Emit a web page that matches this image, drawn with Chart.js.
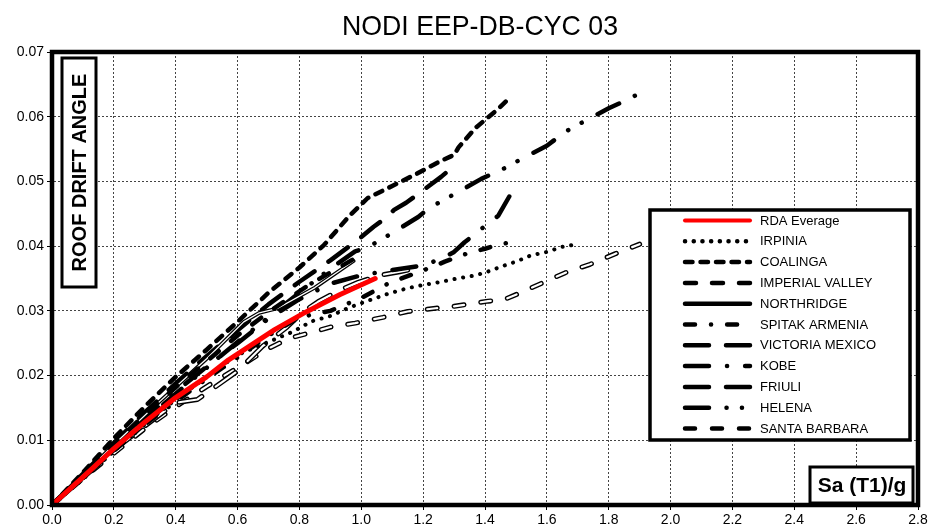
<!DOCTYPE html>
<html>
<head>
<meta charset="utf-8">
<title>NODI EEP-DB-CYC 03</title>
<script src="https://cdn.jsdelivr.net/npm/chart.js@4.4.1/dist/chart.umd.min.js"></script>
<style>
  html, body { margin: 0; padding: 0; background: #fff; }
</style>
</head>
<body>
<canvas id="driftChart" width="935" height="529"></canvas>
<script>
// values: [Sa(T1)/g, roof drift angle]
const rdaAverage = [[0,0],[0.1,0.0043],[0.2,0.0087],[0.3,0.0128],[0.4,0.0166],[0.5,0.0198],[0.57,0.0224],[0.64,0.0246],[0.72,0.0271],[0.82,0.0298],[0.93,0.0325],[1.045,0.035]];
const irpinia = [[0,0],[0.1,0.004],[0.2,0.0083],[0.3,0.0125],[0.4,0.0163],[0.5,0.0198],[0.6,0.0232],[0.7,0.0252],[0.78,0.0268],[0.84,0.0284],[0.9,0.0292],[0.96,0.0305],[1.03,0.0317],[1.09,0.0327],[1.15,0.0335],[1.2,0.034],[1.26,0.0345],[1.31,0.035],[1.36,0.0354],[1.4,0.0359],[1.45,0.0368],[1.5,0.0376],[1.55,0.0386],[1.6,0.0391],[1.65,0.0399],[1.7,0.0403]];
const coalinga = [[0,0],[0.1,0.005],[0.2,0.0103],[0.3,0.0152],[0.4,0.0198],[0.5,0.024],[0.6,0.0283],[0.7,0.0328],[0.8,0.0367],[0.88,0.0402],[0.96,0.0446],[1.02,0.0474],[1.1,0.0493],[1.18,0.0512],[1.25,0.053],[1.3,0.0541],[1.315,0.0553],[1.37,0.0583],[1.44,0.0611],[1.475,0.0627]];
const imperialValley = [[0,0],[0.1,0.0047],[0.2,0.0094],[0.3,0.014],[0.4,0.0182],[0.5,0.0222],[0.6,0.0262],[0.7,0.0298],[0.83,0.034],[0.975,0.038]];
const northridge = [[0,0],[0.1,0.0046],[0.2,0.0093],[0.33,0.0152],[0.5,0.0226],[0.62,0.0283],[0.67,0.0297],[0.73,0.0304],[0.85,0.0336],[0.975,0.0377]];
const spitakArmenia = [[0,0],[0.1,0.0042],[0.2,0.0084],[0.3,0.0124],[0.4,0.016],[0.5,0.0195],[0.6,0.0228],[0.7,0.0262],[0.8,0.029],[0.9,0.03],[1.0,0.032],[1.09,0.0343],[1.18,0.0359],[1.23,0.0368],[1.27,0.0376],[1.35,0.039],[1.4,0.0396],[1.44,0.0402],[1.495,0.0407]];
const victoriaMexico = [[0,0],[0.1,0.0048],[0.2,0.0096],[0.3,0.0143],[0.4,0.0188],[0.5,0.023],[0.6,0.027],[0.7,0.031],[0.8,0.0345],[0.9,0.0378],[0.97,0.0403],[1.0,0.0414],[1.04,0.043],[1.08,0.0444],[1.106,0.0456],[1.145,0.0467],[1.21,0.049],[1.258,0.0507],[1.29,0.052]];
const kobe = [[0,0],[0.1,0.0045],[0.2,0.009],[0.3,0.0133],[0.4,0.0175],[0.5,0.0214],[0.6,0.025],[0.7,0.0288],[0.8,0.0318],[0.9,0.0342],[1.0,0.0355],[1.1,0.0363],[1.2,0.037],[1.265,0.0382],[1.3,0.0391],[1.334,0.0406],[1.372,0.042],[1.404,0.0433],[1.443,0.0447],[1.48,0.0478]];
const friuli = [[0,0],[0.1,0.0042],[0.2,0.0085],[0.3,0.0122],[0.4,0.0158],[0.47,0.0163],[0.55,0.019],[0.6,0.0207],[0.68,0.0245],[0.76,0.0275],[0.81,0.0298],[0.86,0.0314],[0.93,0.0332],[0.99,0.0344],[1.06,0.0355],[1.12,0.036],[1.19,0.0367]];
const helena = [[0,0],[0.1,0.0044],[0.2,0.0088],[0.3,0.013],[0.4,0.0172],[0.5,0.0212],[0.6,0.0252],[0.7,0.029],[0.8,0.0328],[0.9,0.0365],[0.98,0.0392],[1.02,0.0398],[1.064,0.041],[1.106,0.0422],[1.184,0.0445],[1.22,0.0459],[1.265,0.0471],[1.307,0.0482],[1.388,0.0504],[1.43,0.0513],[1.475,0.0523],[1.518,0.0535],[1.6,0.0555],[1.638,0.0569],[1.68,0.0583],[1.722,0.0593],[1.8,0.0613],[1.846,0.0623],[1.891,0.0634]];
const santaBarbara = [[0,0],[0.1,0.0041],[0.2,0.008],[0.3,0.0118],[0.4,0.0152],[0.5,0.0183],[0.6,0.0212],[0.7,0.0242],[0.77,0.0258],[0.85,0.0268],[0.9,0.0275],[0.98,0.0281],[1.07,0.029],[1.15,0.0299],[1.24,0.0304],[1.3,0.0307],[1.41,0.0315],[1.46,0.0317],[1.5,0.0325],[1.58,0.0342],[1.66,0.0359],[1.74,0.0372],[1.82,0.0388],[1.9,0.0403]];

const seriesNames = ['RDA Everage', 'IRPINIA', 'COALINGA', 'IMPERIAL VALLEY', 'NORTHRIDGE', 'SPITAK ARMENIA',
    'VICTORIA MEXICO', 'KOBE', 'FRIULI', 'HELENA', 'SANTA BARBARA'];
const seriesData = [rdaAverage, irpinia, coalinga, imperialValley, northridge, spitakArmenia,
    victoriaMexico, kobe, friuli, helena, santaBarbara];

const xTicks = [0, 0.2, 0.4, 0.6, 0.8, 1.0, 1.2, 1.4, 1.6, 1.8, 2.0, 2.2, 2.4, 2.6, 2.8];
const yTicks = [0, 0.01, 0.02, 0.03, 0.04, 0.05, 0.06, 0.07];

// line looks (round caps, so dash lengths are a bit shorter than they show)
const lineStyles = [
    { color: '#ff0000', width: 5, dash: [], core: 0 },
    { color: '#000', width: 4, dash: [0.1, 8.6], core: 0 },
    { color: '#000', width: 4.5, dash: [7.5, 8], core: 0 },
    { color: '#000', width: 4.5, dash: [11, 16], core: 0 },
    { color: '#000', width: 3.8, dash: [], core: 1.3 },
    { color: '#000', width: 4.5, dash: [10, 16, 0.1, 16], core: 0 },
    { color: '#000', width: 4.5, dash: [24, 17], core: 0 },
    { color: '#000', width: 4.5, dash: [24, 18, 0.1, 18], core: 0 },
    { color: '#000', width: 5, dash: [24, 17], core: 2.2 },
    { color: '#000', width: 4.5, dash: [24, 17.5, 0.1, 15.3, 0.1, 18], core: 0 },
    { color: '#000', width: 5, dash: [10, 17], core: 2.2 }
];

const FONT = '"Liberation Sans", Arial, sans-serif';

const datasets = [];
seriesNames.forEach((name, i) => {
    const st = lineStyles[i];
    const pts = seriesData[i].map(p => ({ x: p[0], y: p[1] }));
    datasets.push({
        label: name,
        data: pts,
        borderColor: st.color,
        borderWidth: st.width,
        borderDash: st.dash,
        borderCapStyle: 'round',
        borderJoinStyle: 'round',
        pointRadius: 0,
        fill: false,
        tension: 0,
        order: i === 0 ? 0 : 2 * i + 1
    });
    //..white core for the outlined-looking lines
    if (st.core) {
        datasets.push({
            label: name + ' core',
            data: pts,
            borderColor: '#fff',
            borderWidth: st.core,
            borderDash: st.dash,
            borderCapStyle: 'round',
            borderJoinStyle: 'round',
            pointRadius: 0,
            fill: false,
            tension: 0,
            order: 2 * i
        });
    }
});

const decorPlugin = {
    id: 'decor',
    beforeDraw(chart) {
        const ctx = chart.ctx;
        ctx.save();
        ctx.fillStyle = '#fff';
        ctx.fillRect(0, 0, chart.width, chart.height);
        ctx.restore();
    },
    afterDraw(chart) {
        const ctx = chart.ctx;
        const a = chart.chartArea;
        ctx.save();

        // title
        ctx.fillStyle = '#000';
        ctx.font = '28px ' + FONT;
        ctx.textAlign = 'center';
        ctx.textBaseline = 'middle';
        ctx.fillText('NODI EEP-DB-CYC 03', 480, 27, 276);

        // plot frame
        ctx.lineWidth = 4.5;
        ctx.strokeStyle = '#000';
        ctx.strokeRect(a.left, a.top, a.right - a.left, a.bottom - a.top);

        // y title box
        ctx.fillStyle = '#fff';
        ctx.fillRect(62, 58, 34, 229);
        ctx.lineWidth = 3;
        ctx.strokeRect(62, 58, 34, 229);
        ctx.save();
        ctx.translate(80, 172.5);
        ctx.rotate(-Math.PI / 2);
        ctx.fillStyle = '#000';
        ctx.font = 'bold 20px ' + FONT;
        ctx.fillText('ROOF DRIFT ANGLE', 0, 0, 205);
        ctx.restore();

        // x title box
        ctx.fillStyle = '#fff';
        ctx.fillRect(810, 467, 103, 36);
        ctx.lineWidth = 3;
        ctx.strokeRect(810, 467, 103, 36);
        ctx.fillStyle = '#000';
        ctx.font = 'bold 21px ' + FONT;
        ctx.fillText('Sa (T1)/g', 862, 486, 92);

        // legend
        const lx = 650, ly = 210, lw = 260, lh = 230;
        ctx.fillStyle = '#fff';
        ctx.fillRect(lx, ly, lw, lh);
        ctx.lineWidth = 3.5;
        ctx.strokeRect(lx, ly, lw, lh);
        ctx.font = '13px ' + FONT;
        ctx.textAlign = 'left';
        seriesNames.forEach((name, i) => {
            const st = lineStyles[i];
            const y = 220.5 + i * 20.8;
            ctx.save();
            ctx.beginPath();
            ctx.strokeStyle = st.color;
            ctx.lineWidth = i === 0 ? 4 : 4.5;
            ctx.lineCap = 'round';
            ctx.setLineDash(st.dash);
            ctx.moveTo(685, y);
            ctx.lineTo(750, y);
            ctx.stroke();
            ctx.restore();
            ctx.fillStyle = '#000';
            ctx.fillText(name, 760, y + 0.5);
        });

        ctx.restore();
    }
};

new Chart(document.getElementById('driftChart'), {
    type: 'line',
    data: { datasets: datasets },
    options: {
        responsive: false,
        animation: false,
        layout: { padding: { top: 52, right: 17, left: 0, bottom: 0 } },
        plugins: {
            legend: { display: false },
            title: { display: false },
            tooltip: { enabled: false }
        },
        scales: {
            x: {
                type: 'linear',
                min: 0,
                max: 2.8,
                afterBuildTicks: s => { s.ticks = xTicks.map(v => ({ value: v })); },
                afterFit: s => { s.height = 24; },
                ticks: {
                    color: '#000',
                    font: { family: FONT, size: 14 },
                    padding: 2,
                    maxRotation: 0,
                    autoSkip: false,
                    callback: v => v.toFixed(1)
                },
                grid: { color: '#444', lineWidth: 1, tickLength: 5, tickColor: '#000', tickBorderDash: [] },
                border: { display: true, color: '#000', width: 4, dash: [2, 2] }
            },
            y: {
                type: 'linear',
                min: 0,
                max: 0.07,
                afterBuildTicks: s => { s.ticks = yTicks.map(v => ({ value: v })); },
                afterFit: s => { s.width = 52; },
                ticks: {
                    color: '#000',
                    font: { family: FONT, size: 14 },
                    padding: 3,
                    callback: v => v.toFixed(2)
                },
                grid: { color: '#444', lineWidth: 1, tickLength: 5, tickColor: '#000', tickBorderDash: [] },
                border: { display: true, color: '#000', width: 4, dash: [2, 2] }
            }
        }
    },
    plugins: [decorPlugin]
});
</script>
</body>
</html>
